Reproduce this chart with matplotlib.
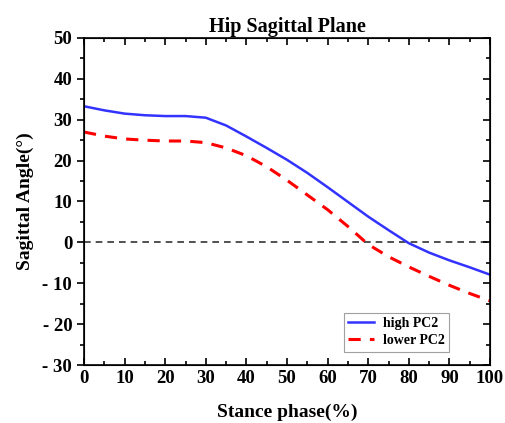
import numpy as np
import matplotlib.pyplot as plt

plt.rcParams['font.family'] = ['Liberation Serif', 'DejaVu Serif']
plt.rcParams['font.weight'] = 'bold'

stance = [0, 5, 10, 15, 20, 25, 30, 35, 40, 45, 50, 55, 60, 65, 70, 75, 80, 85, 90, 95, 100]
high_pc2 = [33.3, 32.3, 31.5, 31.1, 30.9, 30.9, 30.5, 28.6, 25.9, 23.1, 20.2, 17.0,
            13.5, 9.9, 6.3, 3.0, -0.2, -2.5, -4.4, -6.1, -7.9]
lower_pc2 = [27.0, 26.0, 25.3, 25.0, 24.8, 24.8, 24.4, 23.1, 21.2, 18.5, 15.2, 11.6,
             8.0, 3.9, -0.5, -3.5, -6.0, -8.3, -10.5, -12.5, -14.3]
yticks = [-30, -20, -10, 0, 10, 20, 30, 40, 50]
ytick_labels = ['- 30', '- 20', '- 10', '0', '10', '20', '30', '40', '50']
xticks = list(range(0, 101, 10))

fig = plt.figure(figsize=(5.05, 4.23), dpi=100)
ax = fig.add_axes([84 / 505, 1 - 365 / 423, 406 / 505, 327 / 423])

ax.axhline(0, color='#333333', linestyle=(0, (4, 3)), linewidth=1.2, zorder=1)
ax.plot(stance, high_pc2, color='#3333ff', linewidth=1.8, label='high PC2')
ax.plot(stance, lower_pc2, color='#ff0000', linewidth=2.2, linestyle=(0, (4, 3)), label='lower PC2')

ax.set_xlim(0, 100)
ax.set_ylim(-30, 50)
ax.set_xticks(xticks)
ax.set_yticks(yticks)
ax.set_yticklabels(ytick_labels)
ax.set_xticks(np.arange(5, 100, 10), minor=True)
ax.set_yticks(np.arange(-25, 50, 10), minor=True)

ax.tick_params(axis='both', which='both', labelsize=13.5, width=1.2, top=True)
ax.tick_params(axis='x', which='both', direction='in')
ax.tick_params(axis='y', which='both', direction='out')
ax.tick_params(which='major', length=5)
ax.tick_params(which='minor', length=3)
for t in ax.get_xticklabels() + ax.get_yticklabels():
    t.set_fontweight('bold')
for s in ax.spines.values():
    s.set_linewidth(1.2)

# right side ticks point inward
ax2 = ax.twinx()
ax2.set_ylim(ax.get_ylim())
ax2.set_yticks(yticks)
ax2.set_yticks(np.arange(-25, 50, 10), minor=True)
ax2.tick_params(axis='y', which='both', direction='in', width=1.2, labelright=False)
ax2.tick_params(which='major', length=5)
ax2.tick_params(which='minor', length=3)

ax.set_title('Hip Sagittal Plane', fontsize=14.5, fontweight='bold', pad=4)
ax.set_xlabel('Stance phase(%)', fontsize=14, fontweight='bold', labelpad=12)
ax.set_ylabel('Sagittal Angle(°)', fontsize=14, fontweight='bold', labelpad=6)

leg = ax.legend(loc='lower right', bbox_to_anchor=(0.915, 0.02), fontsize=10,
                frameon=True, fancybox=False, edgecolor='#888888',
                handlelength=1.9, handletextpad=0.6, borderpad=0.3, labelspacing=0.3)
leg.get_frame().set_linewidth(0.8)
for t in leg.get_texts():
    t.set_fontweight('bold')

fig.savefig('out.png', dpi=100)
